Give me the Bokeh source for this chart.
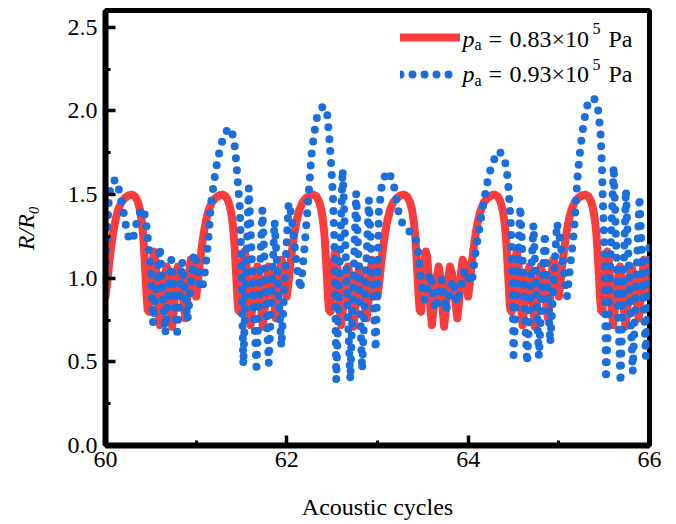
from bokeh.plotting import figure
from bokeh.models import Range1d, FixedTicker, NumeralTickFormatter, Legend, LegendItem, Label
from bokeh.embed import file_html
from bokeh.resources import INLINE

# ---- data ----
red_x = [60.00, 60.02, 60.04, 60.065, 60.09, 60.115, 60.14, 60.175, 60.215, 60.255, 60.29, 60.325, 60.355, 60.38, 60.40, 60.415, 60.425, 60.435, 60.445, 60.455, 60.465, 60.48, 60.50, 60.515, 60.535, 60.55, 60.565, 60.58, 60.60, 60.62, 60.645, 60.675, 60.695, 60.715, 60.735, 60.755, 60.775, 60.80, 60.825, 60.855, 60.88, 60.90, 60.92, 60.94, 60.96, 60.98,
         61.00, 61.02, 61.04, 61.065, 61.09, 61.115, 61.14, 61.175, 61.215, 61.255, 61.29, 61.325, 61.355, 61.38, 61.40, 61.415, 61.425, 61.435, 61.445, 61.455, 61.465, 61.48, 61.50, 61.515, 61.535, 61.55, 61.565, 61.58, 61.60, 61.62, 61.645, 61.675, 61.695, 61.715, 61.735, 61.755, 61.775, 61.80, 61.825, 61.855, 61.88, 61.90, 61.92, 61.94, 61.96, 61.98,
         62.00, 62.02, 62.04, 62.065, 62.09, 62.115, 62.14, 62.175, 62.215, 62.255, 62.29, 62.325, 62.355, 62.38, 62.40, 62.415, 62.425, 62.435, 62.445, 62.455, 62.465, 62.48, 62.50, 62.515, 62.535, 62.55, 62.565, 62.58, 62.60, 62.62, 62.645, 62.675, 62.695, 62.715, 62.735, 62.755, 62.775, 62.80, 62.825, 62.855, 62.88, 62.90, 62.92, 62.94, 62.96, 62.98,
         63.00, 63.02, 63.04, 63.065, 63.09, 63.115, 63.14, 63.175, 63.215, 63.255, 63.29, 63.325, 63.355, 63.38, 63.40, 63.415, 63.425, 63.435, 63.445, 63.455, 63.465, 63.48, 63.50, 63.515, 63.535, 63.55, 63.565, 63.58, 63.60, 63.62, 63.645, 63.675, 63.695, 63.715, 63.735, 63.755, 63.775, 63.80, 63.825, 63.855, 63.88, 63.90, 63.92, 63.94, 63.96, 63.98,
         64.00, 64.02, 64.04, 64.065, 64.09, 64.115, 64.14, 64.175, 64.215, 64.255, 64.29, 64.325, 64.355, 64.38, 64.40, 64.415, 64.425, 64.435, 64.445, 64.455, 64.465, 64.48, 64.50, 64.515, 64.535, 64.55, 64.565, 64.58, 64.60, 64.62, 64.645, 64.675, 64.695, 64.715, 64.735, 64.755, 64.775, 64.80, 64.825, 64.855, 64.88, 64.90, 64.92, 64.94, 64.96, 64.98,
         65.00, 65.02, 65.04, 65.065, 65.09, 65.115, 65.14, 65.175, 65.215, 65.255, 65.29, 65.325, 65.355, 65.38, 65.40, 65.415, 65.425, 65.435, 65.445, 65.455, 65.465, 65.48, 65.50, 65.515, 65.535, 65.55, 65.565, 65.58, 65.60, 65.62, 65.645, 65.675, 65.695, 65.715, 65.735, 65.755, 65.775, 65.80, 65.825, 65.855, 65.88, 65.90, 65.92, 65.94, 65.96, 65.98,
         66.00]
red_y = [0.89, 0.98, 1.09, 1.20, 1.29, 1.36, 1.41, 1.455, 1.48, 1.495, 1.50, 1.49, 1.46, 1.41, 1.34, 1.26, 1.18, 1.08, 0.98, 0.88, 0.81, 0.80, 0.95, 1.09, 1.16, 1.12, 1.00, 0.84, 0.72, 0.83, 0.98, 1.07, 1.00, 0.84, 0.71, 0.82, 0.98, 1.07, 1.02, 0.88, 0.76, 0.86, 1.03, 1.11, 1.08, 0.98,
         0.89, 0.98, 1.09, 1.20, 1.29, 1.36, 1.41, 1.455, 1.48, 1.495, 1.50, 1.49, 1.46, 1.41, 1.34, 1.26, 1.18, 1.08, 0.98, 0.88, 0.81, 0.80, 0.95, 1.09, 1.16, 1.12, 1.00, 0.84, 0.72, 0.83, 0.98, 1.07, 1.00, 0.84, 0.71, 0.82, 0.98, 1.07, 1.02, 0.88, 0.76, 0.86, 1.03, 1.11, 1.08, 0.98,
         0.89, 0.98, 1.09, 1.20, 1.29, 1.36, 1.41, 1.455, 1.48, 1.495, 1.50, 1.49, 1.46, 1.41, 1.34, 1.26, 1.18, 1.08, 0.98, 0.88, 0.81, 0.80, 0.95, 1.09, 1.16, 1.12, 1.00, 0.84, 0.72, 0.83, 0.98, 1.07, 1.00, 0.84, 0.71, 0.82, 0.98, 1.07, 1.02, 0.88, 0.76, 0.86, 1.03, 1.11, 1.08, 0.98,
         0.89, 0.98, 1.09, 1.20, 1.29, 1.36, 1.41, 1.455, 1.48, 1.495, 1.50, 1.49, 1.46, 1.41, 1.34, 1.26, 1.18, 1.08, 0.98, 0.88, 0.81, 0.80, 0.95, 1.09, 1.16, 1.12, 1.00, 0.84, 0.72, 0.83, 0.98, 1.07, 1.00, 0.84, 0.71, 0.82, 0.98, 1.07, 1.02, 0.88, 0.76, 0.86, 1.03, 1.11, 1.08, 0.98,
         0.89, 0.98, 1.09, 1.20, 1.29, 1.36, 1.41, 1.455, 1.48, 1.495, 1.50, 1.49, 1.46, 1.41, 1.34, 1.26, 1.18, 1.08, 0.98, 0.88, 0.81, 0.80, 0.95, 1.09, 1.16, 1.12, 1.00, 0.84, 0.72, 0.83, 0.98, 1.07, 1.00, 0.84, 0.71, 0.82, 0.98, 1.07, 1.02, 0.88, 0.76, 0.86, 1.03, 1.11, 1.08, 0.98,
         0.89, 0.98, 1.09, 1.20, 1.29, 1.36, 1.41, 1.455, 1.48, 1.495, 1.50, 1.49, 1.46, 1.41, 1.34, 1.26, 1.18, 1.08, 0.98, 0.88, 0.81, 0.80, 0.95, 1.09, 1.16, 1.12, 1.00, 0.84, 0.72, 0.83, 0.98, 1.07, 1.00, 0.84, 0.71, 0.82, 0.98, 1.07, 1.02, 0.88, 0.76, 0.86, 1.03, 1.11, 1.08, 0.98,
         0.89]

blue_x = [60.00, 60.02, 60.04, 60.07, 60.11, 60.16, 60.20, 60.24, 60.27, 60.31, 60.35, 60.40, 60.44, 60.47, 60.50, 60.525,
          60.60, 60.66, 60.725, 60.79, 60.845, 60.905, 60.975, 61.01, 61.035, 61.065, 61.10, 61.14, 61.16, 61.195, 61.23,
          61.27, 61.32, 61.37, 61.415, 61.44, 61.46, 61.48, 61.49, 61.50, 61.52, 61.58, 61.665, 61.73, 61.80, 61.865, 61.94,
          62.02, 62.05, 62.075, 62.11, 62.15, 62.19, 62.225, 62.25, 62.27, 62.30, 62.335, 62.40, 62.445, 62.47, 62.49, 62.51,
          62.52, 62.53, 62.545, 62.615, 62.70, 62.765, 62.83, 62.905, 62.98, 63.005, 63.015, 63.05, 63.105, 63.155, 63.19,
          63.215, 63.24, 63.29, 63.345, 63.40, 63.435, 63.455, 63.47, 63.49, 63.52, 63.58, 63.64, 63.71, 63.755, 63.83, 63.88,
          63.96, 64.00, 64.04, 64.08, 64.115, 64.15, 64.19, 64.225, 64.27, 64.33, 64.38, 64.42, 64.44, 64.455, 64.47, 64.48,
          64.49, 64.50, 64.575, 64.65, 64.72, 64.78, 64.845, 64.905, 64.98, 65.015, 65.05, 65.09, 65.125, 65.165, 65.19,
          65.21, 65.24, 65.275, 65.31, 65.385, 65.43, 65.46, 65.475, 65.485, 65.50, 65.51, 65.52, 65.605, 65.68, 65.74,
          65.815, 65.89, 65.96, 66.00]
blue_y = [1.02, 1.30, 1.50, 1.57, 1.59, 1.51, 1.39, 1.27, 1.22, 1.25, 1.35, 1.42, 1.37, 1.22, 1.05, 0.73,
          1.19, 0.67, 1.11, 0.68, 1.10, 0.75, 1.15, 1.09, 0.97, 0.93, 1.05, 1.27, 1.43, 1.57, 1.69,
          1.79, 1.87, 1.90, 1.84, 1.71, 1.57, 1.43, 1.27, 1.07, 0.48, 1.54, 0.47, 1.41, 0.49, 1.34, 0.59,
          1.45, 1.38, 1.25, 1.07, 0.93, 1.15, 1.39, 1.57, 1.73, 1.86, 1.97, 2.03, 1.98, 1.83, 1.67, 1.47,
          1.29, 1.07, 0.39, 1.65, 0.39, 1.51, 0.45, 1.47, 0.57, 1.09, 1.40, 1.57, 1.64, 1.60, 1.53,
          1.45, 1.37, 1.31, 1.28, 1.27, 1.21, 1.13, 1.03, 0.95, 0.87, 1.03, 0.81, 0.99, 0.80, 0.99, 0.85,
          1.05, 1.00, 0.97, 1.15, 1.27, 1.39, 1.51, 1.61, 1.69, 1.76, 1.74, 1.67, 1.57, 1.45, 1.33, 1.15,
          0.95, 0.54, 1.43, 0.49, 1.32, 0.53, 1.27, 0.61, 1.33, 1.23, 1.07, 0.89, 1.07, 1.27, 1.47,
          1.63, 1.79, 1.93, 2.03, 2.08, 2.02, 1.87, 1.67, 1.47, 1.23, 0.97, 0.39, 1.67, 0.37, 1.53,
          0.44, 1.49, 0.53, 1.25]

x_ticks = [60, 62, 64, 66]
x_minor_ticks = [61, 63, 65]
y_ticks = [0.0, 0.5, 1.0, 1.5, 2.0, 2.5]
y_minor_ticks = [0.25, 0.75, 1.25, 1.75, 2.25]

RED = "#fb3c3c"
BLUE = "#1b6fdc"
FONT = "Liberation Serif"
FS = "24px"

p = figure(width=676, height=524, output_backend="svg", toolbar_location=None,
           x_range=Range1d(60, 66), y_range=Range1d(0, 2.6),
           min_border_left=105, min_border_right=27, min_border_top=10, min_border_bottom=79)
p.grid.visible = False
p.outline_line_color = "black"
p.outline_line_width = 5
p.outline_line_alpha = 1.0

for ax in (p.xaxis[0], p.yaxis[0]):
    ax.axis_line_color = "black"
    ax.axis_line_width = 6
    ax.major_tick_line_color = "black"
    ax.minor_tick_line_color = "black"
    ax.major_tick_in = 10
    ax.major_tick_out = 0
    ax.minor_tick_in = 5
    ax.minor_tick_out = 0
    ax.major_tick_line_width = 3.5
    ax.minor_tick_line_width = 3
    ax.major_label_text_font = FONT
    ax.major_label_text_font_size = FS
    ax.major_label_text_color = "black"
    ax.axis_label_text_font = FONT
    ax.axis_label_text_font_size = FS
    ax.axis_label_text_color = "black"

p.xaxis[0].ticker = FixedTicker(ticks=x_ticks, minor_ticks=x_minor_ticks)
p.yaxis[0].ticker = FixedTicker(ticks=y_ticks, minor_ticks=y_minor_ticks)
p.yaxis[0].formatter = NumeralTickFormatter(format="0.0")
p.xaxis[0].axis_label = "Acoustic cycles"
p.xaxis[0].axis_label_text_font_style = "normal"
p.xaxis[0].axis_label_standoff = 24
p.xaxis[0].major_label_standoff = 6
p.yaxis[0].axis_label = "R/R\u2080"
p.yaxis[0].axis_label_text_font_style = "italic"
p.yaxis[0].axis_label_standoff = 26
p.yaxis[0].major_label_standoff = 8

r_red = p.line(red_x, red_y, line_color=RED, line_width=8, line_join="round", line_cap="round")
r_blue = p.line(blue_x, blue_y, line_color=BLUE, line_width=8, line_dash="0 12",
                line_cap="round", line_join="round")

legend = Legend(items=[LegendItem(label=" ", renderers=[r_red]),
                       LegendItem(label=" ", renderers=[r_blue])],
                location=(295, 359), glyph_width=60, glyph_height=24, label_height=24,
                label_width=1, spacing=13, padding=0, margin=0, label_standoff=0,
                border_line_alpha=0, background_fill_alpha=0, label_text_font_size="8px")
p.add_layout(legend)

def add_entry(xd, yd, num):
    parts = [("p", "italic", FS, 0, 0),
             ("a", "normal", "16px", 12, -6),
             ("=", "normal", FS, 26, 0),
             (num + "\u00d710", "normal", FS, 47, 0),
             ("5", "normal", "16px", 130, 10),
             ("Pa", "normal", FS, 146, 0)]
    for txt, style, size, dx, dy in parts:
        p.add_layout(Label(x=xd, y=yd, x_units="data", y_units="data", text=txt,
                           x_offset=dx, y_offset=dy, text_font=FONT, text_font_style=style,
                           text_font_size=size, text_color="black", text_baseline="alphabetic"))

add_entry(63.937, 2.43, "0.83")
add_entry(63.937, 2.22, "0.93")

open("out.html", "w").write(file_html(p, INLINE))
